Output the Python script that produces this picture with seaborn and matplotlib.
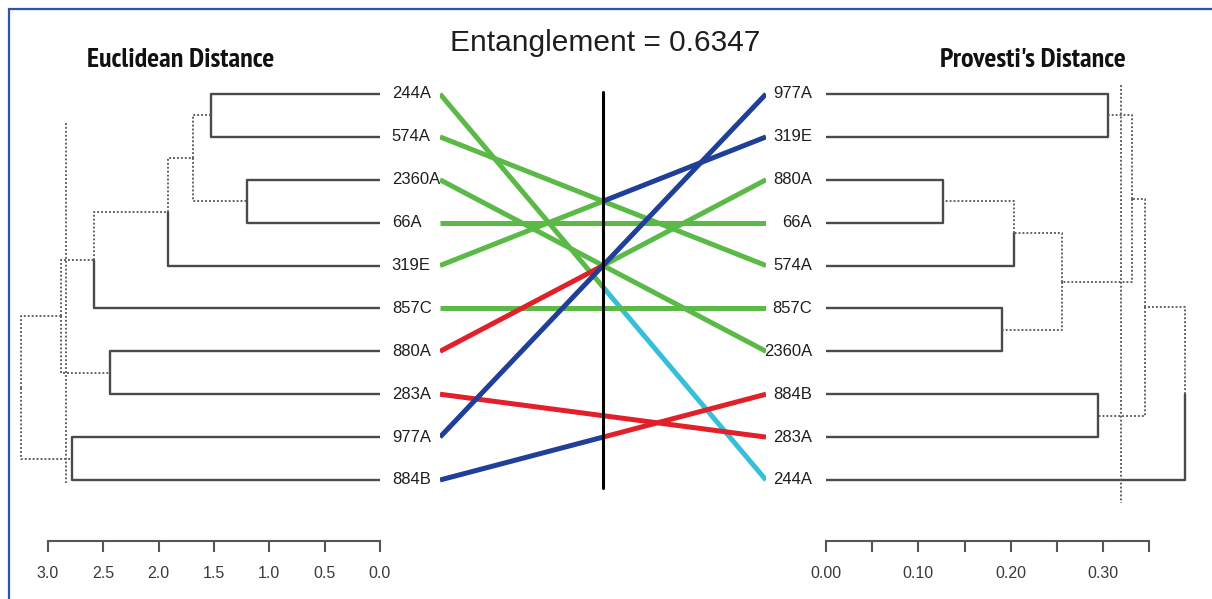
import matplotlib
matplotlib.use("Agg")
import matplotlib.pyplot as plt
from matplotlib.lines import Line2D
from matplotlib import font_manager
from matplotlib.font_manager import FontProperties
import numpy as np
import pandas as pd
import seaborn as sns

# ---------------- data ----------------
title_main = "Entanglement = 0.6347"
title_left = "Euclidean Distance"
title_right = "Provesti's Distance"

left_order = ["244A", "574A", "2360A", "66A", "319E", "857C", "880A", "283A", "977A", "884B"]
right_order = ["977A", "319E", "880A", "66A", "574A", "857C", "2360A", "884B", "283A", "244A"]

# left dendrogram merges (node, child1, child2, height)
left_nodes = ["a", "b", "c", "d", "e", "f", "g", "h", "root"]
left_child1 = ["244A", "2360A", "a", "c", "d", "880A", "e", "977A", "g"]
left_child2 = ["574A", "66A", "b", "319E", "857C", "283A", "f", "884B", "h"]
left_heights = [1.53, 1.20, 1.69, 1.92, 2.58, 2.44, 2.88, 2.78, 3.24]
left_dotted = ["a", "b", "c", "d", "e", "f", "g", "h"]
left_cut_height = 2.84
left_cut_span = [1.68, 10.07]

# right dendrogram merges
right_nodes = ["p", "q", "r", "s", "t", "u", "v", "w", "root"]
right_child1 = ["977A", "880A", "q", "857C", "r", "p", "884B", "u", "w"]
right_child2 = ["319E", "66A", "574A", "2360A", "s", "t", "283A", "v", "244A"]
right_heights = [0.305, 0.127, 0.203, 0.190, 0.255, 0.331, 0.294, 0.345, 0.389]
right_dotted = ["p", "q", "r", "s", "t", "u", "v", "w"]
right_cut_height = 0.319
right_cut_span = [0.79, 10.53]

left_ticks = [0.0, 0.5, 1.0, 1.5, 2.0, 2.5, 3.0]
left_tick_labels = ["0.0", "0.5", "1.0", "1.5", "2.0", "2.5", "3.0"]
right_ticks = [0.0, 0.05, 0.10, 0.15, 0.20, 0.25, 0.30, 0.35]
right_tick_labels = ["0.00", "", "0.10", "", "0.20", "", "0.30", ""]

# connection line colours (left half, right half) per label
link_left_color = {"244A": "green", "574A": "green", "2360A": "green", "66A": "green",
                   "319E": "green", "857C": "green", "880A": "red", "283A": "red",
                   "977A": "blue", "884B": "blue"}
link_right_color = {"244A": "cyan", "574A": "green", "2360A": "green", "66A": "green",
                    "319E": "blue", "857C": "green", "880A": "green", "283A": "red",
                    "977A": "blue", "884B": "red"}
color_map = {"green": "#5bb947", "red": "#e2202a", "blue": "#1f3f99", "cyan": "#36bfd9"}

# ---------------- style ----------------
sns.set_theme(style="white")
plt.rcParams["font.family"] = ["Liberation Sans", "DejaVu Sans"]


def find_condensed_bold():
    cands = []
    for f in font_manager.fontManager.ttflist:
        nm = (f.name + " " + f.fname).lower()
        wt = f.weight if isinstance(f.weight, int) else (700 if "bold" in str(f.weight) else 400)
        bold = wt >= 600 or "bold" in f.fname.lower()
        if not bold or "oblique" in nm or "italic" in nm:
            continue
        if "narrow" in nm:
            cands.append((0, f.fname))
        elif "condensed" in nm or f.stretch == "condensed":
            cands.append((1, f.fname))
    cands.sort()
    return cands[0][1] if cands else None


cond_path = find_condensed_bold()
if cond_path is not None:
    title_fp = FontProperties(fname=cond_path, size=20.2)
else:
    title_fp = FontProperties(family=["Liberation Sans", "DejaVu Sans"], weight="bold", size=15.5)

W, H = 1212, 599
fig = plt.figure(figsize=(W / 100, H / 100), dpi=100)
fig.patch.set_facecolor("white")


def fx(px):
    return px / W


def fy(px):
    return 1 - px / H


sp = (480 - 94) / 9.0
y_top = 94 - 0.5 * sp
y_bot = 480 + 0.5 * sp
ab = fy(y_bot)
ah = (y_bot - y_top) / H

axL = fig.add_axes([fx(15), ab, fx(380) - fx(15), ah])
axR = fig.add_axes([fx(826), ab, fx(1200) - fx(826), ah])
axM = fig.add_axes([fx(440), ab, fx(766) - fx(440), ah])

axL.set_xlim((380 - 15) / 110.67, 0)
axR.set_xlim(0, (1200 - 826) / 923.7)
axM.set_xlim(0, 1)

solid = dict(color="#4a4a4a", lw=1.7, solid_capstyle="butt")
dotted = dict(color="#5a5a5a", lw=1.35, ls=(0, (1, 1.1)))


def draw_dendro(ax, order, nodes, c1s, c2s, hs, dotted_set):
    pos = {lab: i + 1 for i, lab in enumerate(order)}
    hgt = {lab: 0.0 for lab in order}
    for n, c1, c2, h in zip(nodes, c1s, c2s, hs):
        pos[n] = (pos[c1] + pos[c2]) / 2.0
        hgt[n] = h
        for c in (c1, c2):
            st = dotted if c in dotted_set else solid
            ax.plot([h, h, hgt[c]], [pos[n], pos[c], pos[c]], **st)
    return pos


posL = draw_dendro(axL, left_order, left_nodes, left_child1, left_child2, left_heights, set(left_dotted))
posR = draw_dendro(axR, right_order, right_nodes, right_child1, right_child2, right_heights, set(right_dotted))

axL.plot([left_cut_height] * 2, left_cut_span, clip_on=False, **dotted)
axR.plot([right_cut_height] * 2, right_cut_span, clip_on=False, **dotted)

for lab in left_order:
    axL.annotate(lab, (0, posL[lab]), xytext=(8.5, 0), textcoords="offset points",
                 ha="left", va="center", fontsize=12, color="#1e1e1e", annotation_clip=False)
for lab in right_order:
    axR.annotate(lab, (0, posR[lab]), xytext=(-10, 0), textcoords="offset points",
                 ha="right", va="center", fontsize=12, color="#1e1e1e", annotation_clip=False)

# connecting lines
rows = []
pal = {}
for lab in left_order:
    lp, rp = posL[lab], posR[lab]
    mid = (lp + rp) / 2.0
    rows += [(lab + "_L", 0.0, lp), (lab + "_L", 0.5, mid)]
    rows += [(lab + "_R", 0.5, mid), (lab + "_R", 1.0, rp)]
    pal[lab + "_L"] = color_map[link_left_color[lab]]
    pal[lab + "_R"] = color_map[link_right_color[lab]]
df = pd.DataFrame(rows, columns=["seg", "x", "y"])
sns.lineplot(data=df, x="x", y="y", hue="seg", palette=pal, estimator=None, sort=False,
             legend=False, lw=3.6, ax=axM)
for l in axM.lines:
    l.set_solid_capstyle("butt")
axM.plot([0.5, 0.5], [0.95, 10.19], color="black", lw=2.2, zorder=5)

for ax in (axL, axR, axM):
    ax.set_ylim(10.5, 0.5)
    ax.set_xlabel("")
    ax.set_ylabel("")
    ax.set_yticks([])
    ax.patch.set_alpha(0)
    for s in ("top", "right", "left"):
        ax.spines[s].set_visible(False)
axM.axis("off")

for ax, ticks, labels, lo, hi in ((axL, left_ticks, left_tick_labels, 0, 3.0),
                                  (axR, right_ticks, right_tick_labels, 0, 0.35)):
    ax.spines["bottom"].set_bounds(lo, hi)
    ax.spines["bottom"].set_position(("outward", 28.4))
    ax.spines["bottom"].set_color("#555555")
    ax.spines["bottom"].set_linewidth(1.5)
    ax.set_xticks(ticks)
    ax.set_xticklabels(labels)
    ax.tick_params(axis="x", bottom=True, direction="out", length=8, width=1.5,
                   color="#555555", labelsize=11.5, labelcolor="#3a3a3a", pad=10)

fig.text(fx(181), fy(60), title_left, ha="center", va="center", fontproperties=title_fp,
         color="#111111")
fig.text(fx(1033), fy(60), title_right, ha="center", va="center", fontproperties=title_fp,
         color="#111111")
fig.text(fx(605), fy(43), title_main, ha="center", va="center", fontsize=21.5, color="#1e1e1e")

border = "#2b53b3"
fig.add_artist(Line2D([fx(9), fx(9)], [fy(9), 0], color=border, lw=1.6))
fig.add_artist(Line2D([fx(9), 1], [fy(9), fy(9)], color=border, lw=1.6))

fig.savefig("out.png", dpi=100, facecolor="white")
